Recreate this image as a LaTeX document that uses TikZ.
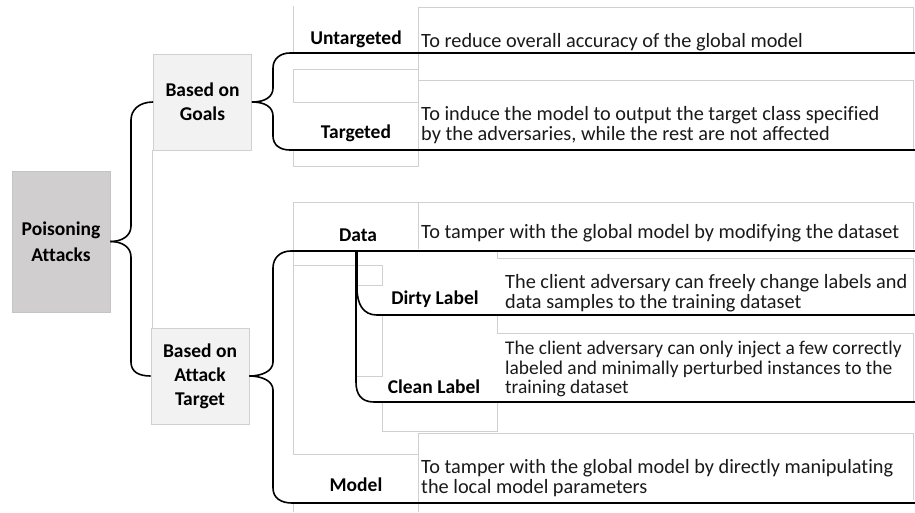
\documentclass[tikz,border=0pt]{standalone}
\usepackage{fontspec}
\setmainfont{Carlito}[Ligatures=NoCommon]
\definecolor{thin}{HTML}{D0D0D0}
\definecolor{rootfill}{HTML}{D0CECE}
\definecolor{rootline}{HTML}{C4C4C4}
\definecolor{midfill}{HTML}{F2F2F2}
\definecolor{midline}{HTML}{D0D0D0}
\definecolor{txt}{HTML}{1A1A1A}
\begin{document}
\begin{tikzpicture}[x=1pt,y=-1pt,
  thinline/.style={draw=thin, line width=0.8pt},
  branch/.style={draw=black, line width=1.6pt},
  rootbox/.style={draw=rootline, fill=rootfill, line width=0.8pt, minimum width=98pt, minimum height=141pt, inner sep=0pt, align=center, font=\bfseries\fontsize{19.5}{25.5}\selectfont},
  midbox/.style={draw=midline, fill=midfill, line width=0.8pt, minimum width=98pt, minimum height=96pt, inner sep=0pt, align=center, font=\bfseries\fontsize{19.5}{24}\selectfont},
  lbl/.style={inner sep=0pt, align=center, font=\bfseries\fontsize{19.5}{24}\selectfont},
  desc/.style={inner sep=0pt, anchor=west, align=left, text=txt, font=\fontsize{20.3}{19.7}\selectfont}]
\useasboundingbox (0,0) rectangle (915,512);
\fill[white] (0,0) rectangle (915,512);

% thin gray frames (goals group)
\draw[thinline] (293,6) -- (293,53);
\draw[thinline] (418,53) -- (418,7) -- (913,7) -- (913,53);
\draw[thinline] (418,53) -- (418,69);
\draw[thinline] (293,69) rectangle (418,102);
\draw[thinline] (418,150) -- (418,80) -- (913,80) -- (913,150);
\draw[thinline] (293,150) -- (293,166) -- (418,166) -- (418,150);
% thin gray frames (attack target group)
\draw[thinline] (913,249) -- (913,202.5) -- (293,202.5) -- (293,454) -- (418,454);
\draw[thinline] (418,202.5) -- (418,249);
\draw[thinline] (293,265) -- (382,265) -- (382,285) -- (357,285);
\draw[thinline] (382,316) -- (382,376) -- (357,376);
\draw[thinline] (382,402) -- (382,431) -- (497,431) -- (497,402);
\draw[thinline] (497,251) -- (497,258) -- (913,258) -- (913,315);
\draw[thinline] (497,316) -- (497,333) -- (913,333) -- (913,402);
\draw[thinline] (418,512) -- (418,433) -- (913,433) -- (913,500);
\draw[thinline] (293,503) -- (293,512);
\draw[thinline] (152,150) -- (152,328);

% main boxes
\node[rootbox] (poison) at (61,241.5) {Poisoning\\Attacks};
\node[midbox] (goals) at (202.5,102) {Based on\\Goals};
\node[midbox] (target) at (200,376) {Based on\\Attack\\Target};

% leaf labels
\node[lbl] (untar) at (356,39) {Untargeted};
\node[lbl] (tar) at (356,133) {Targeted};
\node[lbl] (data) at (358,235) {Data};
\node[lbl] (dirty) at (435,299) {Dirty Label};
\node[lbl] (clean) at (434,387) {Clean Label};
\node[lbl] (model) at (356,485) {Model};

% descriptions
\node[desc] (d1) at (421,42) {To reduce overall accuracy of the global model};
\node[desc] (d2) at (421,125) {To induce the model to output the target class specified\\by the adversaries, while the rest are not affected};
\node[desc] (d3) at (421,233) {To tamper with the global model by modifying the dataset};
\node[desc] (d4) at (505,293) {The client adversary can freely change labels and\\data samples to the training dataset};
\node[desc, font=\fontsize{19.4}{19.7}\selectfont] (d5) at (505,369) {The client adversary can only inject a few correctly\\labeled and minimally perturbed instances to the\\training dataset};
\node[desc] (d6) at (421,478) {To tamper with the global model by directly manipulating\\the local model parameters};

% end coordinates of the branch lines
\coordinate (eU) at (915,53);
\coordinate (eT) at (915,150);
\coordinate (eD) at (915,251);
\coordinate (eDL) at (915,315);
\coordinate (eCL) at (915,402);
\coordinate (eM) at (915,503);
\coordinate (dataroot) at (357,251);
\coordinate (dataroot2) at (356,251);

% braces
\draw[branch] (poison.east) .. controls (122,241.5) and (131,236) .. (131,226) -- (131,120) .. controls (131,110) and (139,102) .. (goals.west);
\draw[branch] (poison.east) .. controls (122,241.5) and (131,247) .. (131,257) -- (131,362) .. controls (131,372) and (139,376) .. (target.west);

\draw[branch] (goals.east) .. controls (265,102) and (273,97) .. (273,88) -- (273,68) .. controls (273,59) and (280,53) .. (290,53) -- (eU);
\draw[branch] (goals.east) .. controls (265,102) and (273,107) .. (273,116) -- (273,136) .. controls (273,145) and (280,150) .. (290,150) -- (eT);

\draw[branch] (target.east) .. controls (262,376) and (273,371) .. (273,362) -- (273,268) .. controls (273,258) and (280,251) .. (291,251) -- (eD);
\draw[branch] (target.east) .. controls (262,376) and (273,381) .. (273,390) -- (273,488) .. controls (273,498) and (281,503) .. (292,503) -- (eM);

\draw[branch] (dataroot) -- (357,288) .. controls (357,304) and (363,315) .. (377,315) -- (eDL);
\draw[branch] (dataroot2) -- (356,382) .. controls (356,394) and (361,402) .. (374,402) -- (eCL);
\end{tikzpicture}
\end{document}
